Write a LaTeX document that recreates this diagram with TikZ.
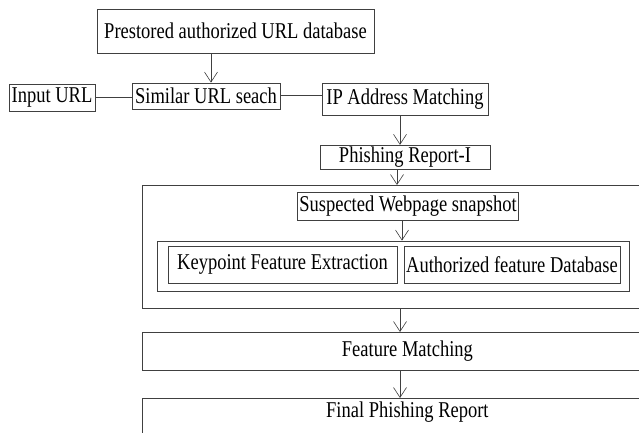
\documentclass[tikz,border=0pt]{standalone}
\usepackage{fontspec}
\newfontfamily\boxfont{Liberation Serif}
\usetikzlibrary{
    positioning,
    arrows.meta
    }
\newcommand{\tall}[1]{\scalebox{1}[1.22]{#1}}

\begin{document}
\begin{tikzpicture}[x=1pt, y=-1pt]
\tikzset{box/.style =
        {
            rectangle,
            draw=black!75,
            line width=0.8pt,
            inner sep=2pt,
            font=\boxfont\fontsize{18.5}{20}\selectfont,
            text=black
        }
}

\tikzset{flow/.style = {
            draw=black!75,
            line width=0.7pt,
            -{Straight Barb[length=10pt, width=13pt, line width=0.6pt]}
        }
}

\tikzset{link/.style = {
            draw=black!75,
            line width=0.8pt
        }
}
		\useasboundingbox (0,0) rectangle (639,432);
		\clip (0,0) rectangle (639,432);

		% URL stage
		\node[box, minimum width=277, minimum height=44] (prestored) at (235.5,31) {\tall{Prestored authorized URL database}};
		\node[box, minimum width=86, minimum height=27] (input) at (52,97.5) {\tall{Input URL}};
		\node[box, minimum width=148, minimum height=26] (similar) at (206,96) {\tall{Similar URL seach}};
		\node[box, minimum width=166, minimum height=32] (ipmatch) at (405,99) {\tall{IP Address Matching}};
		\node[box, minimum width=170, minimum height=24] (report1) at (405,157.5) {\tall{Phishing Report-I}};

		% visual stage
		\node[box, minimum width=530, minimum height=123, anchor=north west] (analysis) at (142,185) {};
		\node[box, minimum width=220, minimum height=28] (snapshot) at (408,206) {\tall{Suspected Webpage snapshot}};
		\node[box, minimum width=472, minimum height=50] (inner) at (393,266) {};
		\node[box, minimum width=229, minimum height=37] (keypoint) at (282.5,264.5) {\tall{Keypoint Feature Extraction}};
		\node[box, minimum width=216, minimum height=37] (authfeat) at (512,264.5) {\tall{Authorized feature Database}};

		\node[box, minimum width=530, minimum height=38, anchor=north west] (fmatch) at (142,332) {\tall{Feature Matching}\hspace{50pt}};
		\node[box, minimum width=530, anchor=north west, inner ysep=3pt, text depth=40pt] (final) at (142,398) {\tall{Final Phishing Report}\hspace{50pt}};

		\draw[flow] ([xshift=-24.5pt]prestored.south) -- ([xshift=5pt]similar.north);
		\draw[link] (input.east) -- (input.east -| similar.west);
		\draw[link] ([yshift=1pt]similar.east) -- ([yshift=1pt]similar.east -| ipmatch.west);
		\draw[flow] ([xshift=-5pt]ipmatch.south) -- ([xshift=-5pt]ipmatch.south |- report1.north);
		\draw[flow] ([xshift=-8pt]report1.south) -- ([xshift=-8pt]report1.south |- analysis.north);
		\draw[flow] ([xshift=-6pt]snapshot.south) -- ([xshift=-6pt]snapshot.south |- inner.north);
		\draw[flow] (analysis.south -| 400,0) -- (fmatch.north -| 400,0);
		\draw[flow] (fmatch.south -| 400,0) -- (final.north -| 400,0);

	\end{tikzpicture}
\end{document}
